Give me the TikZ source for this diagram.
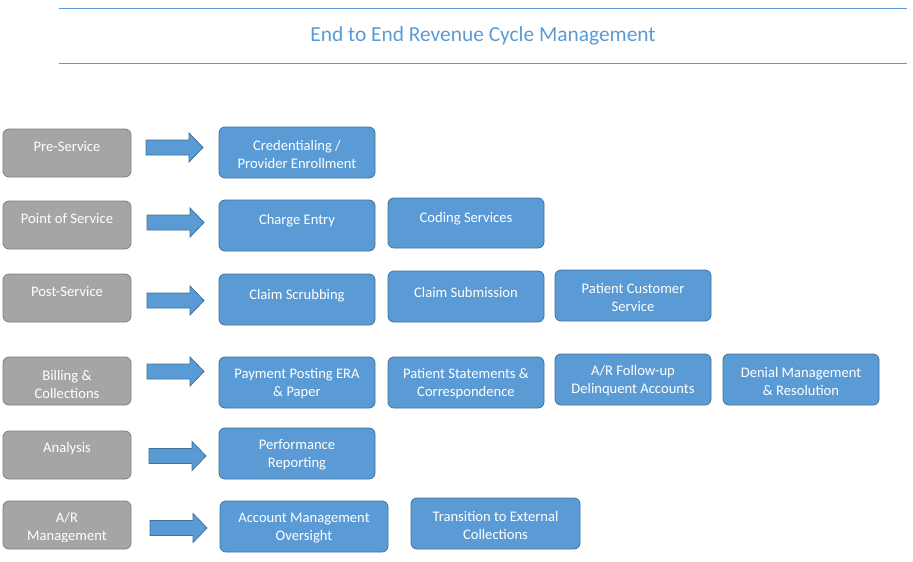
\documentclass[tikz,border=0pt]{standalone}
\usepackage{fontspec}
\setmainfont{Carlito}
\definecolor{bfill}{HTML}{5B9BD5}
\definecolor{bline}{HTML}{41719C}
\definecolor{gfill}{HTML}{A5A5A5}
\definecolor{gline}{HTML}{7F7F7F}
\definecolor{ttl}{HTML}{5B9BD5}
\newcommand\myarrow[3]{%
  \draw[blockarr] (#1,#3-7.5) -- (#2-14,#3-7.5) -- (#2-14,#3-14.5) -- (#2,#3)
    -- (#2-14,#3+14.5) -- (#2-14,#3+7.5) -- (#1,#3+7.5) -- cycle;}
\begin{document}
\begin{tikzpicture}[x=1pt,y=-1pt,
  gbox/.style={draw=gline,fill=gfill,rounded corners=6pt,line width=0.8pt,
    anchor=north west,inner sep=0pt,outer sep=0pt},
  bbox/.style={draw=bline,fill=bfill,rounded corners=6pt,line width=0.8pt,
    anchor=north west,inner sep=0pt,outer sep=0pt},
  txt/.style={text=white,align=center,font=\fontsize{14.6}{18}\selectfont,inner sep=0pt},
  blockarr/.style={draw=bline,fill=bfill,line width=0.8pt},
  rule/.style={draw=ttl,line width=1pt}]
\useasboundingbox (0,0) rectangle (913,562);
% title
\coordinate (l1a) at (59,8); \coordinate (l1b) at (907,8);
\coordinate (l2a) at (59,63); \coordinate (l2b) at (907,63);
\draw[rule] (l1a) -- (l1b);
\draw[rule] (l2a) -- (l2b);
\node[text=ttl,font=\fontsize{21.4}{24}\selectfont] (title) at (483,36) {End to End Revenue Cycle Management};
% gray boxes
\node[gbox,minimum width=128,minimum height=48] (g1) at (3,129) {};
\node[txt] at (67,147) {Pre-Service};
\node[gbox,minimum width=128,minimum height=48] (g2) at (3,201) {};
\node[txt] at (67,219) {Point of Service};
\node[gbox,minimum width=128,minimum height=48] (g3) at (3,274) {};
\node[txt] at (67,292) {Post-Service};
\node[gbox,minimum width=128,minimum height=48] (g4) at (3,357) {};
\node[txt] at (67,384) {Billing \&\\Collections};
\node[gbox,minimum width=128,minimum height=48] (g5) at (3,431) {};
\node[txt] at (67,449) {Analysis};
\node[gbox,minimum width=128,minimum height=48] (g6) at (3,501) {};
\begin{scope}
\clip (3,501) rectangle (131,541.5);
\node[txt] at (67,528) {A/R\\Management};
\end{scope}
% arrows
\myarrow{146}{203}{147.5}
\myarrow{147}{204}{222.5}
\myarrow{147}{204}{300.5}
\myarrow{147}{204}{371.5}
\myarrow{149}{206}{456}
\myarrow{150}{207}{528}
% row 1
\node[bbox,minimum width=156,minimum height=51] (b11) at (219,127) {};
\node[txt] at (297,154) {Credentialing /\\Provider Enrollment};
% row 2
\node[bbox,minimum width=156,minimum height=51] (b21) at (219,200) {};
\node[txt] at (297,221) {Charge Entry};
\node[bbox,minimum width=156,minimum height=50] (b22) at (388,198) {};
\node[txt] at (466,219) {Coding Services};
% row 3
\node[bbox,minimum width=156,minimum height=51] (b31) at (219,274) {};
\node[txt] at (297,296) {Claim Scrubbing};
\node[bbox,minimum width=156,minimum height=51] (b32) at (388,271) {};
\node[txt] at (466,292) {Claim Submission};
\node[bbox,minimum width=156,minimum height=51] (b33) at (555,270) {};
\node[txt] at (633,297) {Patient Customer\\Service};
% row 4
\node[bbox,minimum width=156,minimum height=51] (b41) at (219,357) {};
\node[txt] at (297,384) {Payment Posting ERA\\\& Paper};
\node[bbox,minimum width=156,minimum height=51] (b42) at (388,357) {};
\node[txt] at (466,384) {Patient Statements \&\\Correspondence};
\node[bbox,minimum width=156,minimum height=51] (b43) at (555,354) {};
\node[txt] at (633,381) {A/R Follow-up\\Delinquent Accounts};
\node[bbox,minimum width=156,minimum height=51] (b44) at (723,354) {};
\node[txt] at (801,381) {Denial Management\\\& Resolution};
% row 5
\node[bbox,minimum width=156,minimum height=51] (b51) at (219,428) {};
\node[txt] at (297,455) {Performance\\Reporting};
% row 6
\node[bbox,minimum width=168,minimum height=51] (b61) at (220,501) {};
\node[txt] at (304,528) {Account Management\\Oversight};
\node[bbox,minimum width=169,minimum height=51] (b62) at (411,498) {};
\node[txt] at (495.5,525) {Transition to External\\Collections};
\end{tikzpicture}
\end{document}
